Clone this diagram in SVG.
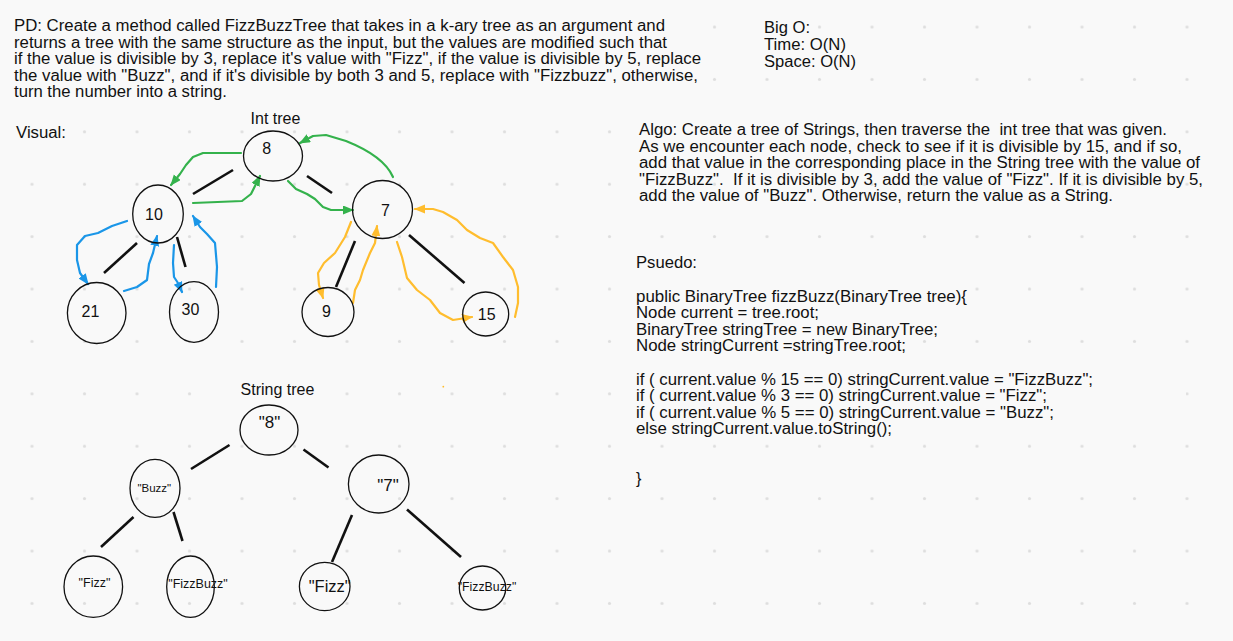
<svg xmlns="http://www.w3.org/2000/svg" width="1233" height="641" viewBox="0 0 1233 641">
<style>
  text { font-family: "Liberation Sans", Arial, sans-serif; fill: #111; }
  .t16 { font-size: 16px; }
  .nl { font-size: 16px; text-anchor: middle; }
  .node { fill: none; stroke: #111; stroke-width: 1.3; }
  .edge { stroke: #111; stroke-width: 2.6; stroke-linecap: butt; fill: none; }
  .g { stroke: #34b24c; stroke-width: 2.2; fill: none; stroke-linejoin: round; stroke-linecap: round; marker-end: url(#ag); }
  .b { stroke: #1a96e8; stroke-width: 2.2; fill: none; stroke-linejoin: round; stroke-linecap: round; marker-end: url(#ab); }
  .o { stroke: #ffbd2e; stroke-width: 2.2; fill: none; stroke-linejoin: round; stroke-linecap: round; marker-end: url(#ao); }
</style>
<defs>
  <pattern id="grid" patternUnits="userSpaceOnUse" x="5.75" y="0.8" width="52.5" height="52.4">
    <circle cx="26.25" cy="26.2" r="1.6" fill="#dedede"/>
  </pattern>
  <marker id="ag" markerUnits="userSpaceOnUse" markerWidth="12" markerHeight="10" refX="10" refY="4.5" orient="auto"><path d="M0,0 L11,4.5 L0,9 z" fill="#34b24c"/></marker>
  <marker id="ab" markerUnits="userSpaceOnUse" markerWidth="12" markerHeight="10" refX="10" refY="4.5" orient="auto"><path d="M0,0 L11,4.5 L0,9 z" fill="#1a96e8"/></marker>
  <marker id="ao" markerUnits="userSpaceOnUse" markerWidth="12" markerHeight="10" refX="10" refY="4.5" orient="auto"><path d="M0,0 L11,4.5 L0,9 z" fill="#ffbd2e"/></marker>
</defs>
<rect width="1233" height="641" fill="#f9f9f9"/>
<rect width="1233" height="641" fill="url(#grid)"/>
<!-- text box backgrounds hiding grid -->
<rect x="10" y="14" width="700" height="92" fill="#f9f9f9"/>
<rect x="636" y="285" width="335" height="21" fill="#f9f9f9"/>
<rect x="636" y="370" width="550" height="68" fill="#f9f9f9"/>
<rect x="238" y="382" width="80" height="18" fill="#f9f9f9"/>

<!-- descriptive texts -->
<g id="pd-text" class="t16">
  <text x="14" y="31" textLength="651" lengthAdjust="spacingAndGlyphs">PD: Create a method called FizzBuzzTree that takes in a k-ary tree as an argument and</text>
  <text x="14" y="47.5" textLength="653" lengthAdjust="spacingAndGlyphs">returns a tree with the same structure as the input, but the values are modified such that</text>
  <text x="14" y="64" textLength="687" lengthAdjust="spacingAndGlyphs">if the value is divisible by 3, replace it's value with "Fizz", if the value is divisible by 5, replace</text>
  <text x="14" y="80.5" textLength="684" lengthAdjust="spacingAndGlyphs">the value with "Buzz", and if it's divisible by both 3 and 5, replace with "Fizzbuzz", otherwise,</text>
  <text x="14" y="97" textLength="213" lengthAdjust="spacingAndGlyphs">turn the number into a string.</text>
</g>
<g id="bigo-text" class="t16">
  <text x="764" y="32.5" textLength="46" lengthAdjust="spacingAndGlyphs">Big O:</text>
  <text x="764" y="49.5" textLength="82" lengthAdjust="spacingAndGlyphs">Time: O(N)</text>
  <text x="764" y="66.5" textLength="92" lengthAdjust="spacingAndGlyphs">Space: O(N)</text>
</g>
<g id="algo-text" class="t16">
  <text x="639" y="135" textLength="528" lengthAdjust="spacingAndGlyphs" xml:space="preserve">Algo: Create a tree of Strings, then traverse the  int tree that was given.</text>
  <text x="639" y="151.5" textLength="543" lengthAdjust="spacingAndGlyphs">As we encounter each node, check to see if it is divisible by 15, and if so,</text>
  <text x="639" y="168" textLength="561" lengthAdjust="spacingAndGlyphs">add that value in the corresponding place in the String tree with the value of</text>
  <text x="639" y="184.5" textLength="564" lengthAdjust="spacingAndGlyphs" xml:space="preserve">"FizzBuzz".  If it is divisible by 3, add the value of "Fizz". If it is divisible by 5,</text>
  <text x="639" y="201" textLength="474" lengthAdjust="spacingAndGlyphs">add the value of "Buzz". Otherwise, return the value as a String.</text>
</g>
<g id="pseudo-text" class="t16">
  <text x="636" y="268" textLength="61" lengthAdjust="spacingAndGlyphs">Psuedo:</text>
  <text x="636" y="301.5" textLength="331" lengthAdjust="spacingAndGlyphs">public BinaryTree fizzBuzz(BinaryTree tree){</text>
  <text x="636" y="318" textLength="183" lengthAdjust="spacingAndGlyphs">Node current = tree.root;</text>
  <text x="636" y="334.5" textLength="302" lengthAdjust="spacingAndGlyphs">BinaryTree stringTree = new BinaryTree;</text>
  <text x="636" y="351" textLength="270" lengthAdjust="spacingAndGlyphs">Node stringCurrent =stringTree.root;</text>
  <text x="636" y="384.5" textLength="457" lengthAdjust="spacingAndGlyphs">if ( current.value % 15 == 0) stringCurrent.value = "FizzBuzz";</text>
  <text x="636" y="401" textLength="411" lengthAdjust="spacingAndGlyphs">if ( current.value % 3 == 0) stringCurrent.value = "Fizz";</text>
  <text x="636" y="417.5" textLength="418" lengthAdjust="spacingAndGlyphs">if ( current.value % 5 == 0) stringCurrent.value = "Buzz";</text>
  <text x="636" y="434" textLength="256" lengthAdjust="spacingAndGlyphs">else stringCurrent.value.toString();</text>
  <text x="636" y="484">}</text>
</g>
<g id="labels" class="t16">
  <text x="16" y="138" textLength="50" lengthAdjust="spacingAndGlyphs">Visual:</text>
  <text x="275.5" y="124" text-anchor="middle">Int tree</text>
  <text x="277.5" y="395" text-anchor="middle">String tree</text>
</g>

<!-- connectors -->
<g id="connectors">
  <!-- int tree edges -->
  <line class="edge" x1="193" y1="194" x2="233" y2="170"/>
  <line class="edge" x1="307" y1="176" x2="332" y2="193"/>
  <line class="edge" x1="104" y1="273" x2="137" y2="243"/>
  <line class="edge" x1="177" y1="237" x2="185.5" y2="267"/>
  <line class="edge" x1="336" y1="287" x2="355" y2="241"/>
  <line class="edge" x1="409" y1="235" x2="464.5" y2="283"/>
  <!-- string tree edges -->
  <line class="edge" x1="191" y1="469" x2="229.5" y2="445"/>
  <line class="edge" x1="303.5" y1="449.5" x2="328.5" y2="467.5"/>
  <line class="edge" x1="101" y1="547" x2="133.5" y2="517"/>
  <line class="edge" x1="173.5" y1="512" x2="182.5" y2="541"/>
  <line class="edge" x1="332" y1="562" x2="352" y2="515"/>
  <line class="edge" x1="407" y1="509.5" x2="461" y2="557"/>
  <!-- green traversal -->
  <path class="g" d="M241,153 L203,153 L193,157 L186,165 L180,174 L171,185"/>
  <path class="g" d="M193,203 L242,201 L251,194 L260,176"/>
  <path class="g" d="M288,181 L296,189 L307,194 L315,199 L323,207 L331,210 L353,210"/>
  <path class="g" d="M393,177 C386,161 366,149 346,141 L326,135 L313,136 L300,143"/>
  <!-- blue traversal -->
  <path class="b" d="M127,221 L112,226 L98,233 L85,236 L77,245 L77,260 L80,273 L88,284"/>
  <path class="b" d="M124,291 L137,287 L147,280 L149,264 L153,253 L157,236"/>
  <path class="b" d="M174,245 L173,263 L174,277 L178,283 L182,292"/>
  <path class="b" d="M216,287 L217,267 L215,243 L207,234 L200,227 L193,216"/>
  <!-- orange traversal -->
  <path class="o" d="M351,222 L345,237 L335,253 L324,263 L318,273 L319,285 L323,298"/>
  <path class="o" d="M353,303 L355,290 L360,280 L363,270 L370,253 L375,243 L377,226"/>
  <path class="o" d="M397,242 L402,257 L407,278 L417,290 L430,300 L440,313 L453,320 L472,317"/>
  <path class="o" d="M515,317 L518,303 L518,287 L513,270 L503,257 L493,243 L480,238 L467,230 L457,220 L443,212 L433,209 L415,209"/>
</g>
<circle cx="443.3" cy="386.7" r="0.9" fill="#ffbd2e"/>

<!-- int tree nodes -->
<g id="n8"><ellipse class="node" cx="273" cy="156" rx="29.5" ry="25"/><text class="nl" x="266.7" y="154">8</text></g>
<g id="n10"><ellipse class="node" cx="158" cy="214" rx="25.3" ry="29"/><text class="nl" x="154" y="220">10</text></g>
<g id="n7"><ellipse class="node" cx="382.5" cy="209.5" rx="30" ry="29"/><text class="nl" x="385.5" y="216">7</text></g>
<g id="n21"><ellipse class="node" cx="96.7" cy="313" rx="29.3" ry="30.5"/><text class="nl" x="90.5" y="316.5">21</text></g>
<g id="n30"><ellipse class="node" cx="194" cy="312" rx="24.5" ry="30.3"/><text class="nl" x="190.5" y="315">30</text></g>
<g id="n9"><ellipse class="node" cx="328" cy="312" rx="26" ry="24.5"/><text class="nl" x="326.5" y="316.5">9</text></g>
<g id="n15"><ellipse class="node" cx="485.7" cy="314" rx="23" ry="22"/><text class="nl" x="486.7" y="320">15</text></g>

<!-- string tree nodes -->
<g id="s8"><ellipse class="node" cx="269" cy="430" rx="29" ry="25"/><text x="269.5" y="428" font-size="17" text-anchor="middle">"8"</text></g>
<g id="sBuzz"><ellipse class="node" cx="155" cy="488.3" rx="25" ry="29"/><text x="154.3" y="491.5" font-size="11.5" text-anchor="middle">"Buzz"</text></g>
<g id="s7"><ellipse class="node" cx="378.7" cy="484" rx="30.3" ry="29"/><text x="388" y="490.5" font-size="17" text-anchor="middle">"7"</text></g>
<g id="sFizzL"><ellipse class="node" cx="93.3" cy="586.7" rx="29.3" ry="30.7"/><text x="94.5" y="586.7" font-size="12.5" text-anchor="middle">"Fizz"</text></g>
<g id="sFizzBuzzL"><ellipse class="node" cx="190.5" cy="586.7" rx="23.8" ry="30.7"/><text x="198" y="587.5" font-size="12.5" text-anchor="middle">"FizzBuzz"</text></g>
<g id="sFizzR"><ellipse class="node" cx="324.7" cy="586.5" rx="25.3" ry="24.2"/><text x="329.7" y="591.5" font-size="16.5" text-anchor="middle">"Fizz"</text></g>
<g id="sFizzBuzzR"><ellipse class="node" cx="482.5" cy="588" rx="23.2" ry="22"/><text x="487" y="591" font-size="12.3" text-anchor="middle">"FizzBuzz"</text></g>
</svg>
